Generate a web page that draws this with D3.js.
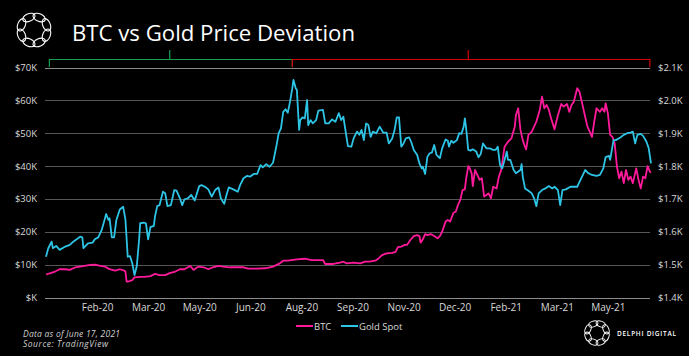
<!DOCTYPE html>
<html><head><meta charset="utf-8">
<script src="https://cdn.jsdelivr.net/npm/d3@7"></script>
<style>body{margin:0;background:#000}svg{display:block}</style>
</head><body>
<svg id="c" width="689" height="356"></svg>
<script>
// ---- data ----
const goldSpot = [
["2020-01-01",1524],["2020-01-03",1550],["2020-01-06",1570],["2020-01-07",1550],["2020-01-10",1557],["2020-01-13",1545],["2020-01-18",1555],["2020-01-22",1560],["2020-01-25",1570],["2020-01-28",1577],["2020-01-31",1585],["2020-02-02",1583],["2020-02-03",1550],["2020-02-07",1565],["2020-02-11",1567],["2020-02-13",1577],["2020-02-16",1583],["2020-02-19",1605],["2020-02-22",1641],["2020-02-23",1654],["2020-02-25",1636],["2020-02-26",1641],["2020-02-28",1583],["2020-03-01",1583],["2020-03-03",1636],["2020-03-06",1668],["2020-03-09",1676],["2020-03-11",1636],["2020-03-13",1524],["2020-03-15",1526],["2020-03-17",1504],["2020-03-19",1468],["2020-03-21",1496],["2020-03-23",1575],["2020-03-24",1626],["2020-03-27",1628],["2020-03-29",1626],["2020-03-31",1577],["2020-04-02",1614],["2020-04-05",1618],["2020-04-06",1646],["2020-04-08",1678],["2020-04-10",1681],["2020-04-13",1722],["2020-04-15",1717],["2020-04-17",1678],["2020-04-20",1681],["2020-04-23",1727],["2020-04-25",1725],["2020-04-28",1702],["2020-04-30",1681],["2020-05-02",1699],["2020-05-05",1702],["2020-05-08",1712],["2020-05-11",1695],["2020-05-15",1739],["2020-05-17",1742],["2020-05-20",1737],["2020-05-23",1729],["2020-05-26",1707],["2020-05-29",1727],["2020-06-01",1735],["2020-06-03",1702],["2020-06-06",1685],["2020-06-08",1712],["2020-06-10",1735],["2020-06-14",1729],["2020-06-18",1722],["2020-06-20",1742],["2020-06-23",1763],["2020-06-26",1770],["2020-06-29",1768],["2020-07-02",1776],["2020-07-05",1776],["2020-07-08",1803],["2020-07-10",1796],["2020-07-13",1806],["2020-07-16",1798],["2020-07-19",1810],["2020-07-22",1861],["2020-07-24",1900],["2020-07-26",1915],["2020-07-28",1965],["2020-07-30",1973],["2020-08-01",1962],["2020-08-03",1996],["2020-08-05",2037],["2020-08-06",2062],["2020-08-08",2037],["2020-08-09",2032],["2020-08-11",1910],["2020-08-12",1940],["2020-08-14",1948],["2020-08-16",1945],["2020-08-18",2001],["2020-08-19",1925],["2020-08-21",1940],["2020-08-23",1930],["2020-08-26",1940],["2020-08-28",1969],["2020-09-01",1971],["2020-09-03",1930],["2020-09-06",1930],["2020-09-09",1942],["2020-09-12",1935],["2020-09-15",1961],["2020-09-17",1940],["2020-09-19",1950],["2020-09-21",1905],["2020-09-23",1861],["2020-09-26",1859],["2020-09-28",1884],["2020-10-01",1905],["2020-10-03",1895],["2020-10-05",1910],["2020-10-07",1879],["2020-10-09",1930],["2020-10-11",1925],["2020-10-13",1889],["2020-10-15",1905],["2020-10-18",1900],["2020-10-21",1920],["2020-10-24",1902],["2020-10-27",1902],["2020-10-29",1869],["2020-11-01",1884],["2020-11-03",1908],["2020-11-05",1948],["2020-11-07",1948],["2020-11-09",1859],["2020-11-11",1869],["2020-11-13",1884],["2020-11-16",1887],["2020-11-18",1871],["2020-11-20",1849],["2020-11-23",1834],["2020-11-25",1808],["2020-11-27",1793],["2020-11-28",1798],["2020-11-30",1776],["2020-12-02",1828],["2020-12-04",1839],["2020-12-06",1841],["2020-12-08",1864],["2020-12-10",1834],["2020-12-13",1824],["2020-12-15",1854],["2020-12-18",1881],["2020-12-20",1877],["2020-12-21",1859],["2020-12-23",1877],["2020-12-25",1871],["2020-12-28",1879],["2020-12-30",1900],["2021-01-01",1898],["2021-01-03",1920],["2021-01-04",1945],["2021-01-05",1920],["2021-01-07",1849],["2021-01-09",1847],["2021-01-11",1851],["2021-01-14",1844],["2021-01-16",1827],["2021-01-18",1837],["2021-01-20",1869],["2021-01-23",1854],["2021-01-26",1854],["2021-01-29",1849],["2021-01-31",1849],["2021-02-02",1859],["2021-02-04",1803],["2021-02-06",1793],["2021-02-08",1819],["2021-02-10",1844],["2021-02-11",1819],["2021-02-13",1819],["2021-02-16",1788],["2021-02-18",1778],["2021-02-22",1788],["2021-02-23",1806],["2021-02-24",1768],["2021-02-26",1732],["2021-03-01",1725],["2021-03-04",1717],["2021-03-06",1702],["2021-03-08",1678],["2021-03-10",1717],["2021-03-13",1727],["2021-03-16",1732],["2021-03-19",1739],["2021-03-22",1732],["2021-03-24",1737],["2021-03-27",1727],["2021-03-29",1681],["2021-03-31",1727],["2021-04-03",1729],["2021-04-07",1737],["2021-04-10",1737],["2021-04-13",1737],["2021-04-15",1752],["2021-04-18",1773],["2021-04-20",1788],["2021-04-23",1778],["2021-04-26",1773],["2021-04-30",1770],["2021-05-03",1773],["2021-05-06",1793],["2021-05-08",1827],["2021-05-11",1831],["2021-05-12",1819],["2021-05-15",1879],["2021-05-17",1879],["2021-05-21",1887],["2021-05-24",1895],["2021-05-27",1900],["2021-05-30",1902],["2021-06-01",1905],["2021-06-03",1869],["2021-06-05",1895],["2021-06-08",1898],["2021-06-10",1892],["2021-06-13",1874],["2021-06-15",1854],["2021-06-17",1808]
];
// BTC in thousands of USD
const btc = [
["2020-01-01",7.0],["2020-01-05",7.4],["2020-01-09",7.9],["2020-01-13",8.6],["2020-01-18",8.6],["2020-01-22",8.4],["2020-01-27",9.2],["2020-01-31",9.4],["2020-02-04",9.6],["2020-02-09",9.9],["2020-02-13",10.0],["2020-02-18",9.6],["2020-02-22",9.4],["2020-02-26",8.6],["2020-03-02",8.2],["2020-03-06",8.6],["2020-03-10",8.2],["2020-03-11",7.9],["2020-03-12",4.9],["2020-03-13",4.8],["2020-03-17",5.3],["2020-03-19",6.1],["2020-03-24",6.3],["2020-03-28",6.3],["2020-04-02",6.5],["2020-04-06",7.2],["2020-04-10",6.8],["2020-04-15",6.8],["2020-04-19",7.4],["2020-04-24",7.9],["2020-04-28",8.6],["2020-05-02",8.6],["2020-05-07",9.6],["2020-05-10",8.4],["2020-05-14",9.4],["2020-05-19",9.2],["2020-05-23",8.6],["2020-05-27",9.2],["2020-06-01",9.6],["2020-06-05",9.4],["2020-06-11",9.2],["2020-06-17",9.2],["2020-06-23",9.2],["2020-06-27",8.8],["2020-07-05",8.8],["2020-07-12",8.9],["2020-07-19",9.4],["2020-07-25",10.4],["2020-07-28",11.2],["2020-08-01",11.2],["2020-08-09",11.6],["2020-08-16",11.8],["2020-08-22",11.4],["2020-08-28",11.4],["2020-09-01",11.4],["2020-09-03",10.2],["2020-09-10",10.2],["2020-09-16",10.6],["2020-09-19",10.9],["2020-09-22",10.4],["2020-09-28",10.6],["2020-10-04",10.4],["2020-10-08",10.9],["2020-10-12",10.9],["2020-10-17",11.2],["2020-10-20",11.9],["2020-10-23",12.9],["2020-10-27",13.4],["2020-11-01",13.6],["2020-11-04",13.9],["2020-11-06",15.3],["2020-11-09",15.5],["2020-11-12",16.0],["2020-11-14",16.0],["2020-11-17",17.5],["2020-11-20",18.7],["2020-11-23",19.0],["2020-11-25",18.7],["2020-11-26",16.7],["2020-11-28",17.7],["2020-11-30",19.3],["2020-12-02",19.0],["2020-12-05",19.3],["2020-12-09",18.5],["2020-12-11",18.0],["2020-12-13",18.7],["2020-12-15",20.0],["2020-12-18",23.1],["2020-12-20",23.6],["2020-12-22",23.1],["2020-12-25",25.8],["2020-12-27",26.1],["2020-12-29",28.2],["2020-12-31",29.7],["2021-01-02",32.7],["2021-01-04",32.9],["2021-01-05",35.8],["2021-01-07",40.0],["2021-01-08",39.6],["2021-01-10",37.8],["2021-01-11",33.9],["2021-01-13",38.8],["2021-01-15",37.3],["2021-01-17",35.8],["2021-01-19",36.3],["2021-01-21",30.7],["2021-01-23",31.2],["2021-01-25",31.7],["2021-01-27",30.2],["2021-01-29",33.7],["2021-02-01",33.2],["2021-02-03",36.8],["2021-02-05",38.8],["2021-02-08",45.9],["2021-02-11",47.4],["2021-02-14",48.4],["2021-02-17",52.0],["2021-02-18",55.5],["2021-02-20",57.6],["2021-02-22",51.0],["2021-02-24",47.9],["2021-02-26",45.9],["2021-02-27",45.1],["2021-03-01",49.5],["2021-03-04",50.5],["2021-03-08",53.5],["2021-03-11",57.1],["2021-03-13",61.1],["2021-03-15",57.6],["2021-03-17",58.6],["2021-03-19",57.1],["2021-03-21",54.5],["2021-03-24",51.2],["2021-03-27",55.5],["2021-03-30",58.9],["2021-04-01",58.1],["2021-04-04",58.9],["2021-04-06",56.5],["2021-04-08",58.6],["2021-04-10",59.6],["2021-04-13",63.7],["2021-04-15",62.6],["2021-04-18",58.1],["2021-04-20",55.0],["2021-04-22",52.0],["2021-04-24",50.5],["2021-04-26",48.9],["2021-04-28",53.5],["2021-04-30",57.6],["2021-05-03",56.5],["2021-05-05",57.6],["2021-05-07",56.5],["2021-05-08",59.1],["2021-05-10",56.1],["2021-05-12",49.5],["2021-05-14",48.9],["2021-05-16",46.9],["2021-05-18",39.8],["2021-05-20",36.3],["2021-05-22",38.3],["2021-05-24",34.8],["2021-05-26",38.8],["2021-05-28",35.8],["2021-05-30",36.8],["2021-06-01",34.8],["2021-06-04",39.3],["2021-06-06",35.8],["2021-06-08",33.2],["2021-06-10",36.8],["2021-06-12",36.3],["2021-06-14",40.0],["2021-06-16",38.3],["2021-06-17",38.0]
];
const leftTicks = [0,10,20,30,40,50,60,70];
const rightTicks = [1400,1500,1600,1700,1800,1900,2000,2100];
const xTicks = ["2020-02-15","2020-03-31","2020-05-15","2020-06-29","2020-08-13","2020-09-27","2020-11-11","2020-12-26","2021-02-09","2021-03-26","2021-05-10"];
const greenRange = ["2020-01-04","2020-04-19","2020-08-05"];
const redRange = ["2020-08-05","2021-01-07","2021-06-16"];
const titleText = "BTC vs Gold Price Deviation";
const seriesNames = ["BTC","Gold Spot"];

// ---- drawing ----
const svg = d3.select("#c");
svg.append("rect").attr("width",689).attr("height",356).attr("fill","#000");
const parse = d3.timeParse("%Y-%m-%d");
const x = d3.scaleTime().domain([parse("2020-01-01"), parse("2021-06-17")]).range([46, 651]);
const yL = d3.scaleLinear().domain([0,70]).range([297.5,67.5]);
const yR = d3.scaleLinear().domain([1400,2100]).range([297.5,67.5]);
const FONT = "'Open Sans', 'DejaVu Sans', sans-serif";
const TXT = "#d9d9d9";
const BTC_C = "#ff1a9c", GOLD_C = "#2ec4e6";

// gridlines
svg.append("g").selectAll("line").data(leftTicks).join("line")
  .attr("x1",45).attr("x2",650)
  .attr("y1",d=>Math.round(yL(d))+0.5).attr("y2",d=>Math.round(yL(d))+0.5)
  .attr("stroke",d=>(d===0||d===70)?"#8c8c8c":"#555").attr("stroke-width",1);

function styleAxis(g, size){
  g.select(".domain").remove();
  g.selectAll("text").attr("fill",TXT).style("font-family",FONT).style("font-size",size);
}
svg.append("g").attr("transform","translate(45,0)")
  .call(d3.axisLeft(yL).tickValues(leftTicks).tickSize(0).tickPadding(8).tickFormat(d=>"$"+(d?d:"")+"K"))
  .call(g=>styleAxis(g,"9.5px"));
svg.append("g").attr("transform","translate(650,0)")
  .call(d3.axisRight(yR).tickValues(rightTicks).tickSize(0).tickPadding(8).tickFormat(d=>"$"+d3.format(".1f")(d/1000)+"K"))
  .call(g=>styleAxis(g,"9.5px"));
svg.append("g").attr("transform","translate(0,297.5)")
  .call(d3.axisBottom(x).tickValues(xTicks.map(parse)).tickSize(0).tickPadding(6).tickFormat(d3.timeFormat("%b-%y")))
  .call(g=>styleAxis(g,"10px"));

// bracket annotations
function bracket(r, color){
  const a=x(parse(r[0])), m=x(parse(r[1])), b=x(parse(r[2]));
  svg.append("path").attr("d",`M${a},67 V59.5 H${b} V67`).attr("fill","none").attr("stroke",color).attr("stroke-width",1.2);
  svg.append("path").attr("d",`M${m},59.5 V50`).attr("fill","none").attr("stroke",color).attr("stroke-width",1.2);
}
bracket(greenRange,"#17a04e");
bracket(redRange,"#d40000");

// lines
const lineBTC = d3.line().x(d=>x(parse(d[0]))).y(d=>yL(d[1]));
const lineGold = d3.line().x(d=>x(parse(d[0]))).y(d=>yR(d[1]));
svg.append("path").datum(btc).attr("d",lineBTC).attr("fill","none").attr("stroke",BTC_C).attr("stroke-width",1.8).attr("stroke-linejoin","round");
svg.append("path").datum(goldSpot).attr("d",lineGold).attr("fill","none").attr("stroke",GOLD_C).attr("stroke-width",1.8).attr("stroke-linejoin","round");

// legend
const leg = svg.append("g").style("font-family",FONT).style("font-size","9.5px");
[[296,BTC_C,seriesNames[0]],[341,GOLD_C,seriesNames[1]]].forEach(([lx,c,t])=>{
  leg.append("line").attr("x1",lx).attr("x2",lx+17).attr("y1",326).attr("y2",326).attr("stroke",c).attr("stroke-width",2);
  leg.append("text").attr("x",lx+18).attr("y",329.5).attr("fill",TXT).text(t);
});

// title
svg.append("text").attr("x",72).attr("y",41).attr("fill","#fff").style("font-family",FONT).style("font-size","21px")
  .attr("textLength",283).attr("lengthAdjust","spacingAndGlyphs").text(titleText);

// footer
const ft = svg.append("g").style("font-family",FONT).style("font-size","8.5px").style("font-style","italic").attr("fill","#d0d0d0");
ft.append("text").attr("x",23).attr("y",337).attr("textLength",97).attr("lengthAdjust","spacing").text("Data as of June 17, 2021");
ft.append("text").attr("x",23).attr("y",347).attr("textLength",85).attr("lengthAdjust","spacing").text("Source:  TradingView");

// logos
function logo(cx,cy,R,rx,ry,sw){
  const g = svg.append("g").attr("transform",`translate(${cx},${cy})`);
  for(let i=0;i<8;i++){
    g.append("ellipse").attr("cx",0).attr("cy",-R).attr("rx",rx).attr("ry",ry)
      .attr("transform",`rotate(${i*45+22.5})`).attr("fill","none").attr("stroke","#fff").attr("stroke-width",sw);
  }
}
logo(34,30,13.5,6.5,3.8,1.1);
logo(597,333,9.7,4.8,2.8,0.9);
svg.append("text").attr("x",617).attr("y",335.5).attr("fill","#fff").style("font-family",FONT).style("font-size","6.5px")
  .style("font-weight","600").attr("textLength",59).attr("lengthAdjust","spacing").text("DELPHI DIGITAL");
</script>
</body></html>
